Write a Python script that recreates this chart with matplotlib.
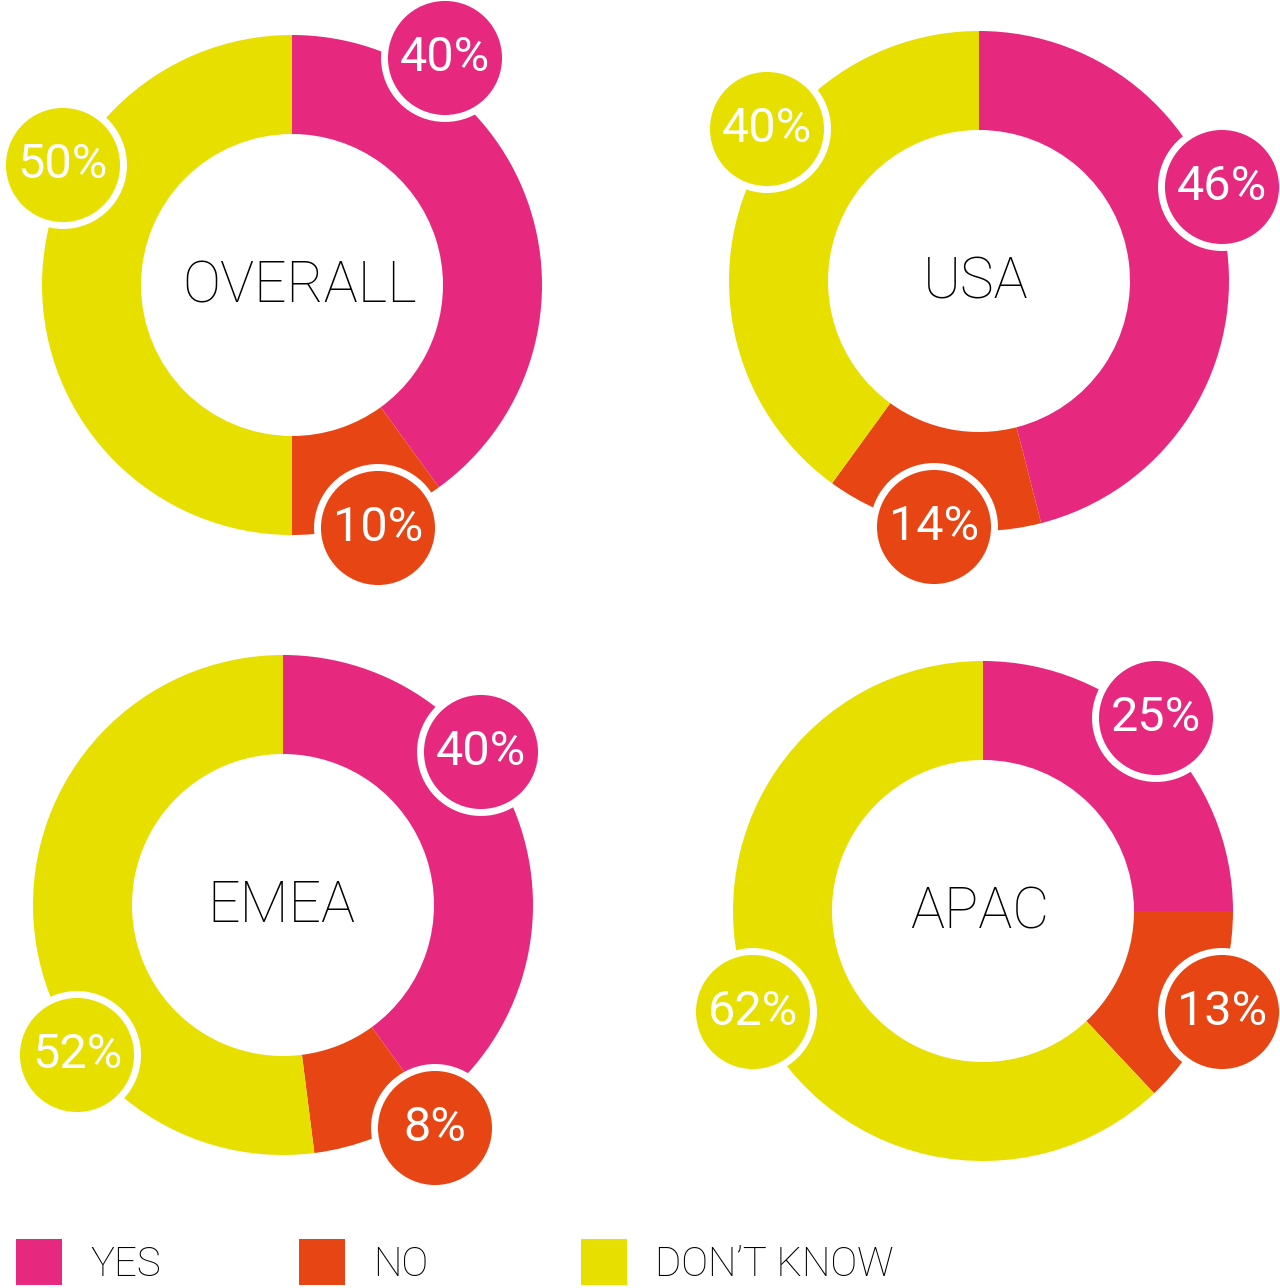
import matplotlib.pyplot as plt
from matplotlib.patches import Circle, Rectangle

W, H = 1280, 1288

# data
regions = ['OVERALL', 'USA', 'EMEA', 'APAC']
answers = ['YES', 'NO', 'DON\u2019T KNOW']
yes = [40, 46, 40, 25]
no = [10, 14, 8, 13]
dont_know = [50, 40, 52, 62]

colors = ['#E6287F', '#E84514', '#E6DF00']

# layout (pixel coordinates, y measured from the top)
centers = [(292, 285), (979, 281), (283, 905), (983, 911)]
label_dx = [8, -3, -2, -3]
bubbles = [
    [(445, 58), (378, 528), (63, 165)],
    [(1222, 187), (934, 527), (767, 129)],
    [(481, 752), (435, 1128), (77, 1055)],
    [(1156, 718), (1222, 1012), (753, 1012)],
]
R_OUT, RING = 250, 99
R_BUB = 60.5

plt.rcParams['font.family'] = ['Roboto', 'DejaVu Sans']

fig = plt.figure(figsize=(W / 100, H / 100), dpi=100)
ax = fig.add_axes([0, 0, 1, 1])

for i, name in enumerate(regions):
    vals = [yes[i], no[i], dont_know[i]]
    cx, cy = centers[i]
    ax.pie(vals, colors=colors, startangle=90, counterclock=False,
           radius=R_OUT, center=(cx, H - cy),
           wedgeprops=dict(width=RING, linewidth=0))
    ax.text(cx + label_dx[i], H - cy - 2, name, ha='center', va='center',
            fontsize=41, fontweight='light', color='black')
    for j, (bx, by) in enumerate(bubbles[i]):
        ax.add_patch(Circle((bx, H - by), R_BUB, facecolor=colors[j],
                            edgecolor='white', linewidth=5, zorder=3))
        ax.text(bx, H - by, f'{vals[j]}%', ha='center', va='center',
                fontsize=35, color='white', zorder=4)

# legend
legend_x = [16, 299, 581]
for j, lab in enumerate(answers):
    ax.add_patch(Rectangle((legend_x[j], H - 1285), 46, 46,
                           facecolor=colors[j], linewidth=0))
    ax.text(legend_x[j] + 74, H - 1265, lab, ha='left', va='center',
            fontsize=29, fontweight='light', color='black')

ax.set_xlim(0, W)
ax.set_ylim(0, H)
ax.set_aspect('equal')
ax.axis('off')

fig.savefig('out.png', dpi=100, facecolor='white')
